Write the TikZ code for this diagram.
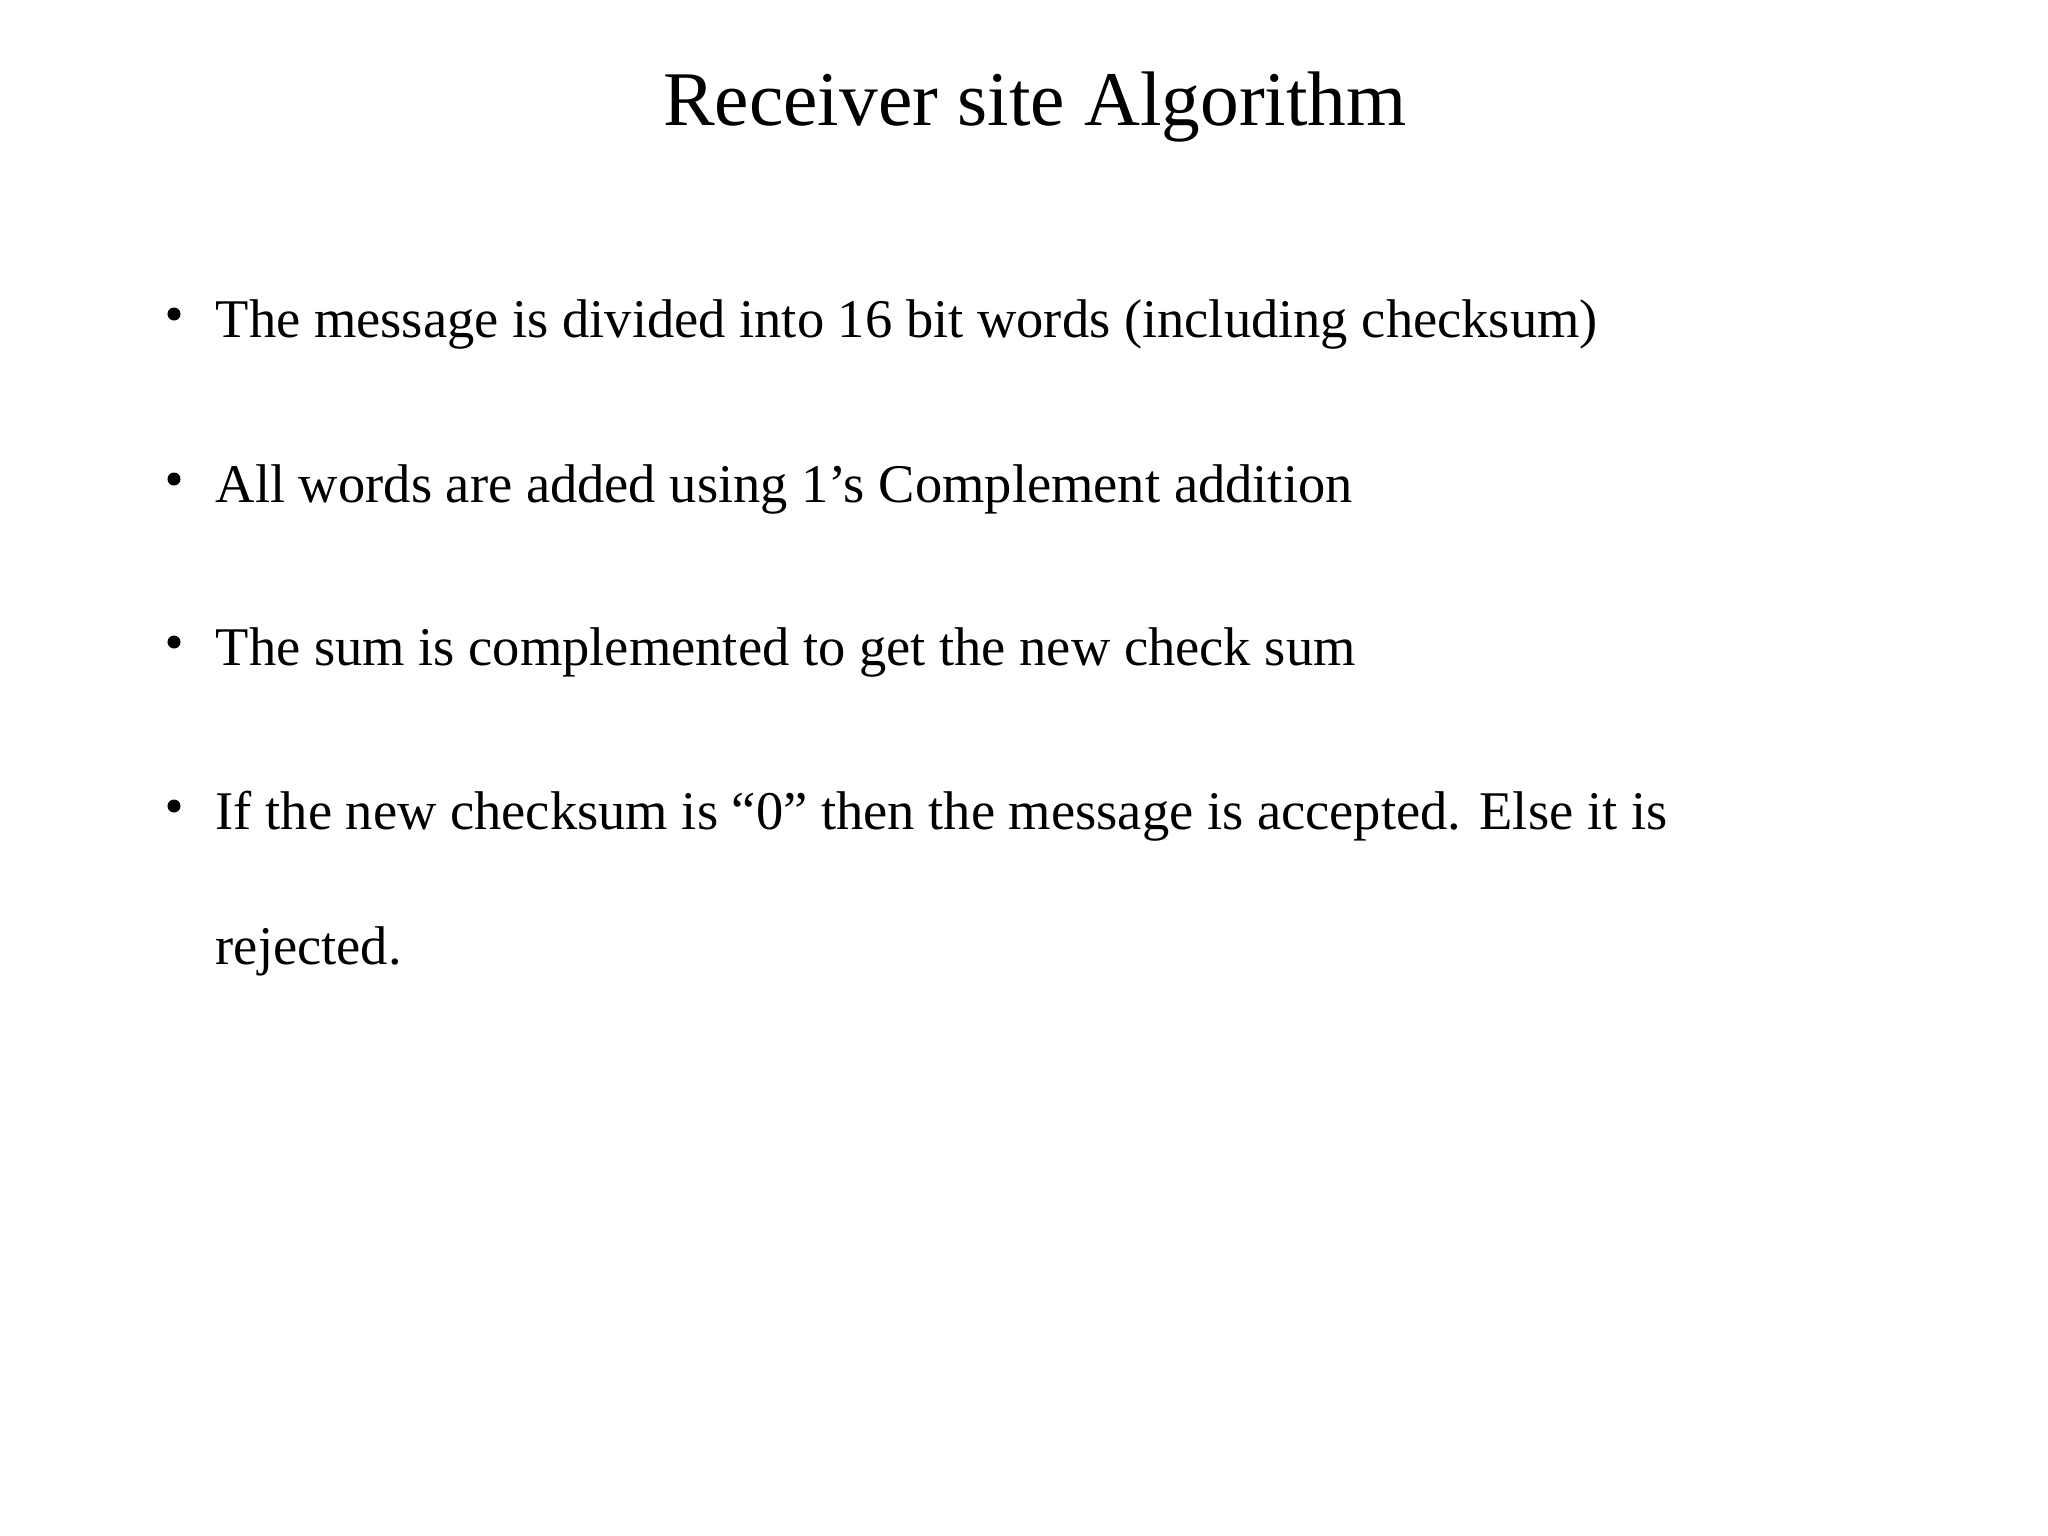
\documentclass[tikz,border=0pt]{standalone}
\usepackage{fontspec}
\setmainfont{Liberation Serif}
\begin{document}
\begin{tikzpicture}[x=0.01cm,y=-0.01cm,
  txt/.style={anchor=base west,inner sep=0pt,font=\fontsize{15.5}{18}\selectfont},
  bul/.style={circle,fill=black,inner sep=0pt,minimum size=0.13cm}]
\useasboundingbox (0,0) rectangle (2048,1536);
\node[anchor=base,inner sep=0pt,font=\fontsize{22}{26}\selectfont] (title) at (1035,125) {Receiver site Algorithm};
\node[txt] (t1) at (215,337) {The message is divided into 16 bit words (including checksum)};
\node[txt] (t2) at (215,502) {All words are added using 1’s Complement addition};
\node[txt] (t3) at (215,665) {The sum is complemented to get the new check sum};
\node[txt] (t4) at (215,829) {If the new checksum is “0” then the message is accepted. Else it is};
\node[txt] (t5) at (215,964) {rejected.};
\node[bul] (b1) at (174,314) {};
\node[bul] (b2) at (174,479) {};
\node[bul] (b3) at (174,642) {};
\node[bul] (b4) at (174,806) {};
\end{tikzpicture}
\end{document}
